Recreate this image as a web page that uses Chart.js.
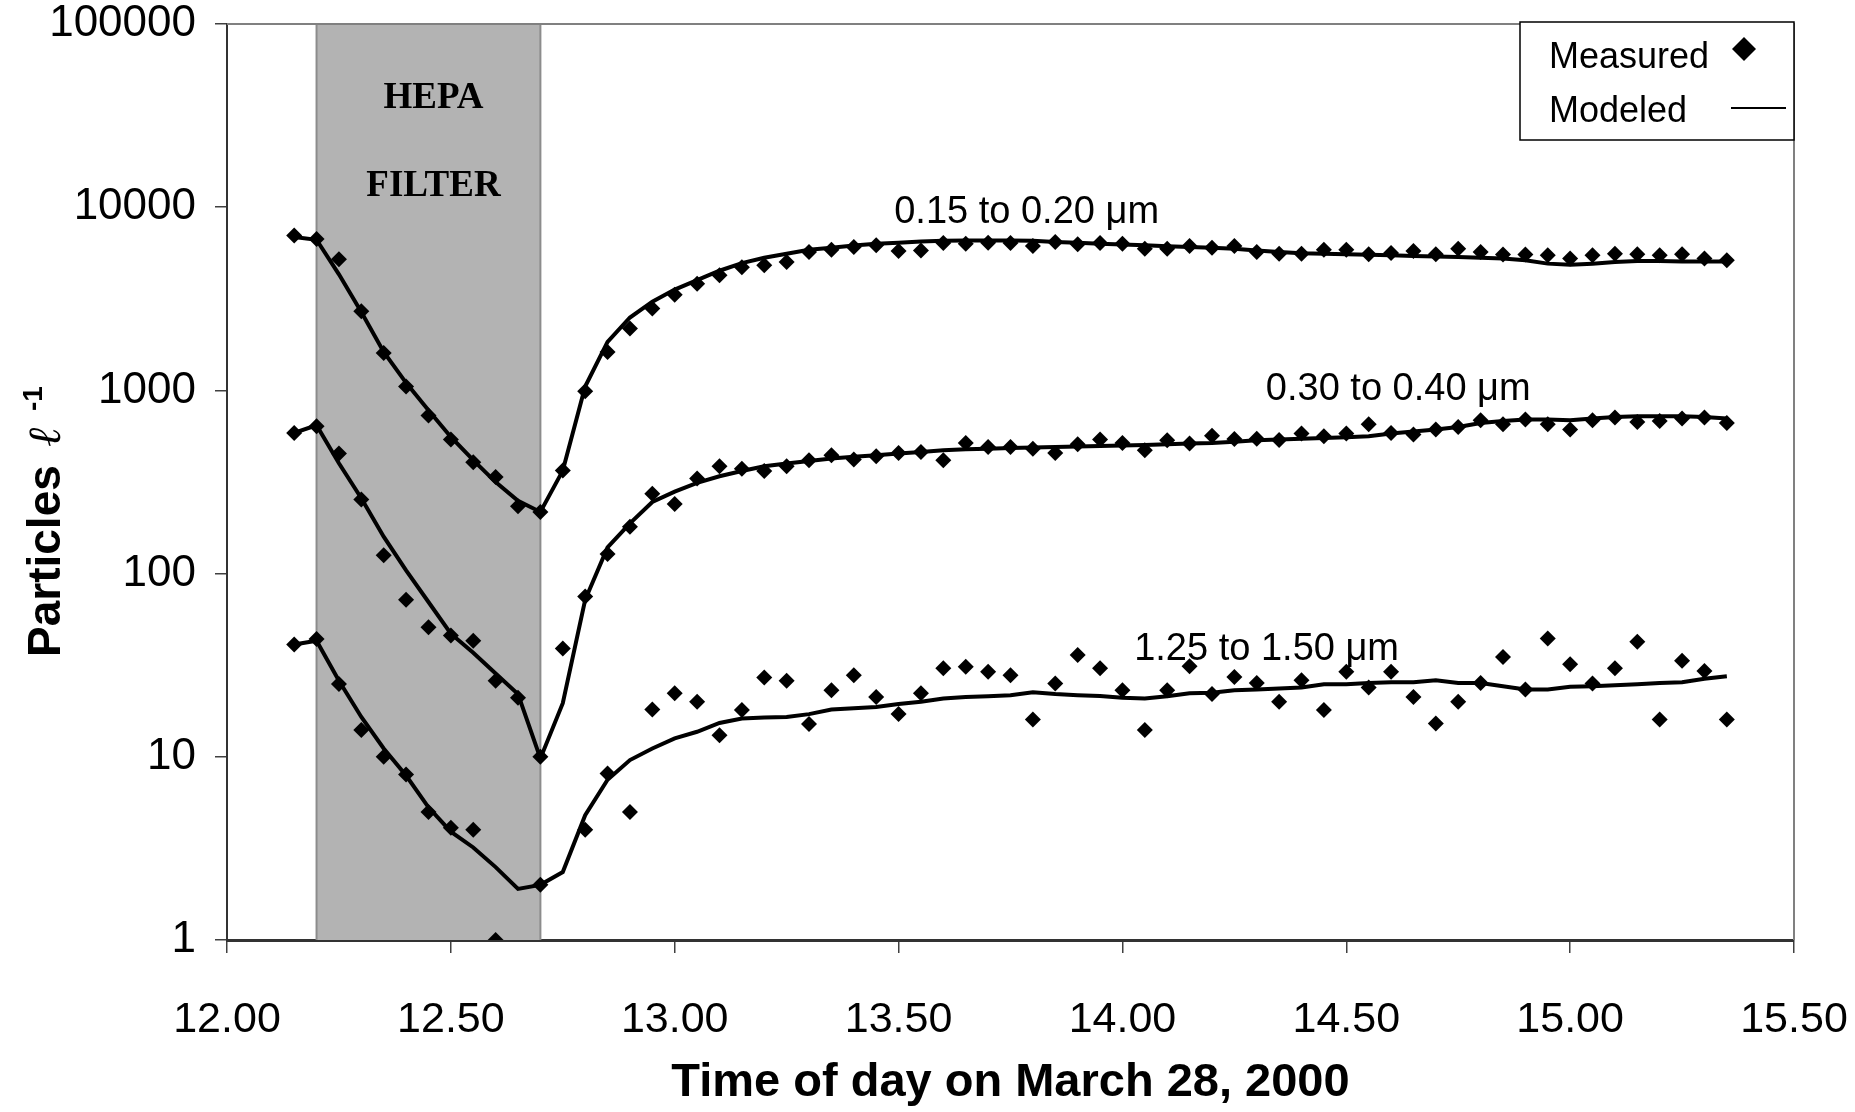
<!DOCTYPE html>
<html>
<head>
<meta charset="utf-8">
<script src="https://cdn.jsdelivr.net/npm/chart.js@4.4.1/dist/chart.umd.min.js"></script>
<style>
  html, body { margin: 0; padding: 0; background: #fff; }
  canvas { display: block; }
</style>
</head>
<body>
<canvas id="particles-chart" width="1855" height="1112"></canvas>
<script>
// sample times (hour of day, every 3 min)
const timeOfDay = [
  12.15, 12.20, 12.25, 12.30, 12.35, 12.40, 12.45, 12.50, 12.55, 12.60,
  12.65, 12.70, 12.75, 12.80, 12.85, 12.90, 12.95, 13.00, 13.05, 13.10,
  13.15, 13.20, 13.25, 13.30, 13.35, 13.40, 13.45, 13.50, 13.55, 13.60,
  13.65, 13.70, 13.75, 13.80, 13.85, 13.90, 13.95, 14.00, 14.05, 14.10,
  14.15, 14.20, 14.25, 14.30, 14.35, 14.40, 14.45, 14.50, 14.55, 14.60,
  14.65, 14.70, 14.75, 14.80, 14.85, 14.90, 14.95, 15.00, 15.05, 15.10,
  15.15, 15.20, 15.25, 15.30, 15.35
];

// 0.15 to 0.20 um
const measured015 = [
  7000, 6700, 5200, 2700, 1600, 1050, 730, 540, 405, 337,
  233, 217, 365, 990, 1620, 2180, 2800, 3330, 3820, 4250,
  4700, 4820, 5020, 5690, 5860, 6060, 6190, 5760, 5810, 6370,
  6320, 6400, 6370, 6140, 6450, 6270, 6370, 6320, 5930, 5930,
  6140, 6010, 6140, 5690, 5570, 5570, 5860, 5860, 5530, 5620,
  5760, 5530, 5930, 5690, 5510, 5510, 5460, 5240, 5460, 5570,
  5530, 5460, 5530, 5240, 5130
];
const modeled015 = [
  6870, 6640, 4300, 2680, 1620, 1100, 780, 557, 416, 316,
  250, 217, 365, 1050, 1840, 2500, 3050, 3550, 4000, 4500,
  4950, 5300, 5570, 5860, 6010, 6180, 6310, 6400, 6500, 6550,
  6590, 6590, 6590, 6550, 6450, 6400, 6320, 6250, 6190, 6120,
  6060, 6000, 5930, 5810, 5690, 5600, 5570, 5530, 5500, 5460,
  5420, 5380, 5340, 5290, 5240, 5130, 4920, 4850, 4920, 5020,
  5080, 5080, 5060, 5060, 5060
];

// 0.30 to 0.40 um
const measured030 = [
  586, 637, 452, 254, 126, 72, 51, 46, 43, 26,
  21, 10, 39, 75, 128, 180, 273, 240, 330, 385,
  374, 363, 385, 416, 443, 419, 437, 456, 461, 416,
  517, 491, 491, 481, 456, 508, 539, 517, 471, 534,
  513, 565, 543, 545, 536, 581, 562, 581, 653, 586,
  574, 611, 631, 687, 653, 693, 653, 611, 687, 711,
  673, 681, 702, 711, 664
];
const modeled030 = [
  586, 645, 400, 258, 159, 104, 70, 47, 37, 28.5,
  22, 9.8, 19.6, 72, 139, 188, 246, 280, 313, 340,
  363, 385, 399, 412, 425, 434, 443, 452, 461, 471,
  477, 481, 485, 488, 491, 494, 497, 501, 504, 508,
  513, 517, 525, 535, 540, 545, 550, 555, 562, 581,
  596, 611, 631, 664, 681, 693, 693, 687, 702, 716,
  722, 722, 722, 716, 702
];

// 1.25 to 1.50 um (null = zero count, not shown on log axis)
const measured125 = [
  41, 44, 25, 14, 10, 8.0, 5.0, 4.1, 4.0, 1.0,
  null, 2.0, null, 4.0, 8.1, 5.0, 18.1, 22.2, 20.0, 13.1,
  18.0, 27.1, 26.0, 15.1, 23.1, 27.9, 21.2, 17.1, 22.2, 30.4,
  31.0, 29.1, 27.9, 16.0, 25.1, 35.9, 30.4, 23.1, 14.0, 23.1,
  31.2, 22.0, 27.3, 25.3, 20.0, 26.2, 18.0, 29.1, 23.9, 29.1,
  21.2, 15.2, 20.0, 25.3, 35.1, 23.3, 44.3, 32.0, 25.1, 30.4,
  42.4, 16.0, 33.4, 29.4, 16.0
];
const modeled125 = [
  41, 43, 26, 16.5, 11.1, 7.9, 5.3, 3.9, 3.2, 2.5,
  1.9, 2.0, 2.35, 4.8, 7.5, 9.6, 11.1, 12.6, 13.7, 15.3,
  16.2, 16.4, 16.5, 17.1, 18.1, 18.4, 18.7, 19.4, 20.0, 20.8,
  21.2, 21.4, 21.7, 22.5, 22.0, 21.7, 21.5, 21.0, 20.8, 21.4,
  22.2, 22.4, 23.1, 23.3, 23.6, 23.9, 24.9, 24.9, 25.3, 25.5,
  25.5, 26.2, 25.3, 25.3, 24.3, 23.3, 23.3, 24.1, 24.3, 24.6,
  24.9, 25.3, 25.5, 26.7, 27.5
];

const yTickValues   = [1, 10, 100, 1000, 10000, 100000];
const xTickValues   = [12.0, 12.5, 13.0, 13.5, 14.0, 14.5, 15.0, 15.5];
const filterWindow  = [12.20, 12.70];
const filterText    = ['HEPA', 'FILTER'];
const sizeLabels    = ['0.15 to 0.20 \u03BCm', '0.30 to 0.40 \u03BCm', '1.25 to 1.50 \u03BCm'];
const legendLabels  = ['Measured', 'Modeled'];

const SANS = '"Liberation Sans", Arial, sans-serif';

function toPoints(values) {
  return timeOfDay
    .map((t, i) => ({ x: t, y: values[i] }))
    .filter(p => p.y !== null);
}

function measuredSet(values) {
  return {
    data: toPoints(values),
    showLine: false,
    pointStyle: 'rectRot',
    pointRadius: 8,
    pointBackgroundColor: '#000',
    pointBorderWidth: 0
  };
}

function modeledSet(values) {
  return {
    data: toPoints(values),
    borderColor: '#000',
    borderWidth: 4,
    pointRadius: 0,
    tension: 0,
    fill: false
  };
}

// keep label overflow from pushing the plot area around
function noScalePadding(s) {
  s.paddingTop = 0; s.paddingBottom = 0;
  s.paddingLeft = 0; s.paddingRight = 0;
}

// shaded filter period, drawn under the data
const filterBand = {
  id: 'filterBand',
  beforeDatasetsDraw(chart) {
    const { ctx, chartArea, scales } = chart;
    const x0 = scales.x.getPixelForValue(filterWindow[0]);
    const x1 = scales.x.getPixelForValue(filterWindow[1]);
    ctx.save();
    ctx.fillStyle = '#b3b3b3';
    ctx.fillRect(x0, chartArea.top, x1 - x0, chartArea.bottom - chartArea.top);
    ctx.strokeStyle = '#8c8c8c';
    ctx.lineWidth = 2;
    ctx.beginPath();
    ctx.moveTo(x0, chartArea.top); ctx.lineTo(x0, chartArea.bottom);
    ctx.moveTo(x1, chartArea.top); ctx.lineTo(x1, chartArea.bottom);
    ctx.stroke();

    ctx.fillStyle = '#000';
    ctx.font = 'bold 37px "Liberation Serif", "Times New Roman", serif';
    ctx.textAlign = 'center';
    ctx.textBaseline = 'middle';
    const cx = (x0 + x1) / 2 + 5;
    ctx.fillText(filterText[0], cx, scales.y.getPixelForValue(39000));
    ctx.fillText(filterText[1], cx, scales.y.getPixelForValue(13000));
    ctx.restore();
  }
};

// frame, size labels, legend box and y title
const decorations = {
  id: 'decorations',
  afterDraw(chart) {
    const { ctx, chartArea, scales } = chart;
    ctx.save();

    // top and right frame
    ctx.strokeStyle = '#808080';
    ctx.lineWidth = 2;
    ctx.beginPath();
    ctx.moveTo(chartArea.left, chartArea.top);
    ctx.lineTo(chartArea.right, chartArea.top);
    ctx.lineTo(chartArea.right, chartArea.bottom);
    ctx.stroke();

    // particle size labels
    ctx.fillStyle = '#000';
    ctx.font = '38px ' + SANS;
    ctx.textAlign = 'center';
    ctx.textBaseline = 'middle';
    const spots = [[13.786, 9300], [14.616, 1005], [14.322, 38.3]];
    sizeLabels.forEach((txt, i) => {
      ctx.fillText(txt, scales.x.getPixelForValue(spots[i][0]), scales.y.getPixelForValue(spots[i][1]));
    });

    // legend box
    const bx = chartArea.right - 274, by = chartArea.top - 2, bw = 274, bh = 118;
    ctx.fillStyle = '#fff';
    ctx.fillRect(bx, by, bw, bh);
    ctx.strokeStyle = '#000';
    ctx.lineWidth = 1.5;
    ctx.strokeRect(bx, by, bw, bh);
    ctx.fillStyle = '#000';
    ctx.font = '36px ' + SANS;
    ctx.textAlign = 'left';
    ctx.fillText(legendLabels[0], bx + 29, by + 36);
    ctx.fillText(legendLabels[1], bx + 29, by + 90);
    const dx = bx + 224, dy = by + 27, r = 12;
    ctx.beginPath();
    ctx.moveTo(dx, dy - r); ctx.lineTo(dx + r, dy); ctx.lineTo(dx, dy + r); ctx.lineTo(dx - r, dy);
    ctx.closePath();
    ctx.fill();
    ctx.lineWidth = 2;
    ctx.beginPath();
    ctx.moveTo(bx + 211, by + 86); ctx.lineTo(bx + 266, by + 86);
    ctx.stroke();

    // y axis title
    ctx.translate(60, 657);
    ctx.rotate(-Math.PI / 2);
    ctx.textAlign = 'left';
    ctx.textBaseline = 'alphabetic';
    ctx.font = 'bold 46px ' + SANS;
    ctx.fillText('Particles', 0, 0);
    ctx.font = 'italic 46px "DejaVu Serif", serif';
    ctx.fillText('\u2113', 210, 0);
    ctx.font = 'bold 28px ' + SANS;
    ctx.fillText('-1', 246, -18);
    ctx.restore();
  }
};

new Chart(document.getElementById('particles-chart').getContext('2d'), {
  type: 'line',
  data: {
    datasets: [
      measuredSet(measured015),
      measuredSet(measured030),
      measuredSet(measured125),
      modeledSet(modeled015),
      modeledSet(modeled030),
      modeledSet(modeled125)
    ]
  },
  options: {
    responsive: false,
    devicePixelRatio: 1,
    animation: false,
    events: [],
    layout: { padding: { top: 24, right: 61, left: 0, bottom: 0 } },
    plugins: {
      legend: { display: false },
      tooltip: { enabled: false }
    },
    scales: {
      x: {
        type: 'linear',
        min: 12,
        max: 15.5,
        afterFit: s => { s.height = 172; noScalePadding(s); },
        afterBuildTicks: s => { s.ticks = xTickValues.map(v => ({ value: v })); },
        ticks: {
          color: '#000',
          font: { family: SANS, size: 43, lineHeight: 1 },
          padding: 46,
          maxRotation: 0,
          callback: v => Number(v).toFixed(2)
        },
        grid: { drawOnChartArea: false, tickLength: 13, color: '#404040', lineWidth: 1.5 },
        border: { color: '#333', width: 3 },
        title: {
          display: true,
          text: 'Time of day on March 28, 2000',
          color: '#000',
          font: { family: SANS, size: 47, weight: 'bold', lineHeight: 1 },
          padding: { top: 0, bottom: 5 }
        }
      },
      y: {
        type: 'logarithmic',
        min: 1,
        max: 100000,
        afterFit: s => { s.width = 227; noScalePadding(s); },
        afterBuildTicks: s => { s.ticks = yTickValues.map(v => ({ value: v })); },
        ticks: {
          color: '#000',
          font: { family: SANS, size: 44, lineHeight: 1 },
          padding: 19,
          callback: v => String(v)
        },
        grid: { drawOnChartArea: false, tickLength: 12, color: '#404040', lineWidth: 1.5 },
        border: { color: '#333', width: 2 }
      }
    }
  },
  plugins: [filterBand, decorations]
});
</script>
</body>
</html>
